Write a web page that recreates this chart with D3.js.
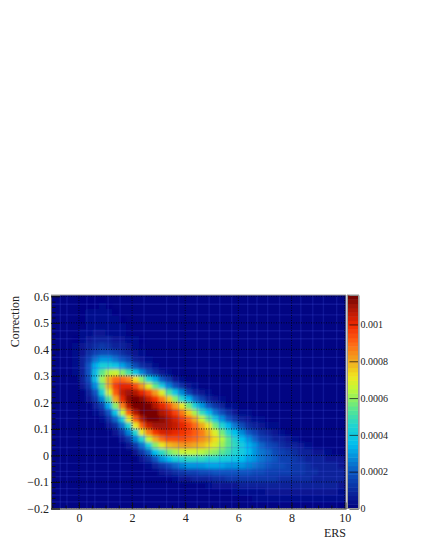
<!DOCTYPE html>
<html>
<head>
<meta charset="utf-8">
<script src="https://cdn.jsdelivr.net/npm/d3@7"></script>
<style>
  body { margin: 0; background: #fff; }
  text { font-family: "Liberation Serif", serif; fill: #222; }
</style>
</head>
<body>
<div id="chart"></div>
<script>
// Bin layout of the histogram
const xBinStart = -1, xBinWidth = 0.25;
const yBinTop = 0.6, yBinHeight = 0.025;
const background = 2;

// first filled x bin of every row, top row first
const rowStart = [4, 4, 4, 4, 5, 4, 3, 3, 3, 3, 3, 3, 4, 4, 5, 5, 6, 6, 7, 8, 9, 10, 11, 12, 13, 14, 16, 18, 23, 27, 30, 43];

// bin contents, in units of 1e-5, one list per row
const heat = [
  [2, 2, 2, 2],
  [2, 2, 2, 3, 2],
  [2, 3, 3, 3, 3, 2],
  [2, 3, 3, 3, 3, 3, 2],
  [3, 3, 3, 3, 3, 3],
  [3, 4, 5, 5, 4, 4, 3],
  [2, 3, 5, 7, 8, 7, 6, 5, 4, 3, 2],
  [3, 5, 8, 11, 12, 11, 9, 7, 5, 3],
  [3, 6, 11, 16, 18, 17, 14, 11, 8, 5, 3],
  [3, 7, 15, 24, 29, 28, 24, 19, 14, 9, 6, 3],
  [4, 9, 19, 33, 42, 44, 39, 32, 24, 17, 11, 7, 4],
  [4, 9, 20, 38, 54, 64, 66, 60, 50, 38, 27, 18, 11, 6, 3],
  [7, 18, 38, 62, 80, 90, 90, 84, 72, 58, 44, 31, 20, 12, 6, 3],
  [5, 13, 30, 54, 80, 96, 102, 100, 93, 82, 69, 54, 40, 27, 17, 10, 5, 3],
  [8, 20, 42, 68, 92, 106, 110, 108, 102, 94, 82, 68, 53, 39, 26, 16, 9, 5, 3],
  [5, 12, 27, 52, 80, 102, 112, 114, 112, 106, 98, 88, 75, 60, 46, 33, 22, 14, 8, 5, 3],
  [7, 16, 34, 60, 88, 107, 115, 116, 114, 109, 102, 94, 83, 70, 56, 42, 30, 20, 13, 8, 4, 3],
  [4, 8, 19, 39, 65, 92, 109, 116, 116, 114, 109, 103, 96, 87, 75, 62, 48, 36, 25, 17, 11, 6, 4, 3],
  [4, 10, 22, 43, 70, 92, 108, 114, 115, 113, 108, 103, 97, 90, 80, 67, 54, 41, 30, 20, 13, 8, 5, 4, 3],
  [5, 11, 24, 45, 70, 92, 105, 110, 110, 108, 105, 101, 96, 90, 81, 70, 57, 45, 34, 25, 17, 11, 7, 5, 4, 3],
  [5, 12, 26, 46, 70, 88, 99, 103, 103, 101, 99, 96, 92, 86, 78, 68, 57, 46, 36, 27, 20, 14, 10, 7, 5, 4],
  [6, 13, 26, 45, 65, 81, 90, 94, 94, 93, 92, 89, 85, 80, 72, 63, 54, 45, 36, 28, 21, 16, 12, 9, 7, 5, 4],
  [6, 13, 25, 42, 59, 71, 78, 81, 82, 82, 80, 77, 73, 68, 62, 55, 48, 41, 34, 28, 22, 17, 14, 11, 9, 7, 5, 4],
  [6, 12, 23, 36, 48, 57, 62, 65, 66, 65, 63, 61, 58, 54, 50, 46, 41, 36, 30, 25, 21, 18, 15, 12, 10, 8, 7, 6, 5, 4],
  [5, 10, 19, 28, 36, 42, 46, 47, 47, 47, 46, 45, 43, 41, 39, 36, 32, 28, 25, 22, 19, 16, 14, 12, 10, 9, 8, 7, 6, 5, 5],
  [4, 8, 13, 18, 23, 26, 28, 29, 30, 31, 31, 31, 30, 29, 28, 26, 24, 22, 20, 18, 17, 15, 13, 12, 11, 9, 8, 7, 7, 6],
  [5, 7, 10, 12, 14, 16, 17, 18, 19, 20, 20, 20, 19, 19, 18, 17, 16, 16, 15, 14, 13, 12, 11, 10, 9, 8, 7, 7],
  [4, 5, 6, 7, 8, 9, 10, 11, 12, 12, 12, 12, 12, 12, 12, 12, 11, 11, 11, 10, 10, 9, 8, 8, 7, 7],
  [4, 5, 5, 6, 6, 7, 7, 7, 7, 7, 8, 8, 8, 8, 8, 8, 8, 8, 7, 7, 6],
  [3, 4, 4, 4, 4, 5, 5, 5, 5, 5, 5, 5, 5, 5, 5, 5, 4],
  [3, 3, 3, 3, 3, 3, 3, 3, 3, 3, 3, 3, 3, 3],
  [2]
];

// fainter streaks that run through the whole histogram
const streaksX = [-0.7, -0.45, 0.3, 0.6, 1.1, 1.55, 2.45, 3.3, 3.75, 4.45, 4.9, 5.3, 5.75, 6.35, 6.7, 7.1, 7.55, 8.35, 8.8, 9.2, 9.7];
const streaksY = [0.57, 0.53, 0.47, 0.44, 0.37, 0.33, 0.27, 0.17, 0.14, 0.07, 0.03, -0.03, -0.06, -0.08, -0.125, -0.15, -0.175];

// Axis ticks
const xMajor = [0, 2, 4, 6, 8, 10];
const xMinor = [-1, -0.5, 0.5, 1, 1.5, 2.5, 3, 3.5, 4.5, 5, 5.5, 6.5, 7, 7.5, 8.5, 9, 9.5];
const yMajor = [-0.2, -0.1, 0, 0.1, 0.2, 0.3, 0.4, 0.5, 0.6];
const yMinor = [-0.18, -0.16, -0.14, -0.12, -0.08, -0.06, -0.04, -0.02, 0.02, 0.04, 0.06, 0.08, 0.12, 0.14, 0.16, 0.18,
  0.22, 0.24, 0.26, 0.28, 0.32, 0.34, 0.36, 0.38, 0.42, 0.44, 0.46, 0.48, 0.52, 0.54, 0.56, 0.58];
const zTicks = [0, 20, 40, 60, 80, 100];
const zLabels = ["0", "0.0002", "0.0004", "0.0006", "0.0008", "0.001"];
const zMax = 116;
const nColors = 50;

// Palette, position along the colour bar and colour
const paletteStops = [0, 0.06, 0.17, 0.3, 0.39, 0.47, 0.56, 0.62, 0.69, 0.78, 0.86, 0.95, 1];
const paletteColors = ["#00007f", "#0a1e96", "#0b55c0", "#00bdf0", "#20d4d0", "#5ce68c", "#c0f838", "#f0e61e",
  "#f0aa1e", "#ff6414", "#f02800", "#a01408", "#6e0000"];

let width = 421, height = 545;
let plot = { left: 51, right: 346, top: 295, bottom: 508.5 };

let svg = d3.select("#chart").append("svg")
  .attr("width", width)
  .attr("height", height)
  .style("display", "block");

let x = d3.scaleLinear().domain([-1.05, 10.05]).range([plot.left, plot.right]);
let y = d3.scaleLinear().domain([-0.2, 0.605]).range([plot.bottom, plot.top]);
let z = d3.scaleLinear().domain([0, zMax]).range([plot.bottom, plot.top]);

let palette = d3.scaleLinear().domain(paletteStops).range(paletteColors).clamp(true);
// ROOT paints with a fixed number of colour levels
function levelColor(v) {
  let level = Math.min(nColors - 1, Math.floor(v / zMax * nColors));
  return palette((level + 0.5) / nColors);
}

let defs = svg.append("defs");
defs.append("clipPath").attr("id", "plotClip").append("rect")
  .attr("x", plot.left).attr("y", plot.top)
  .attr("width", plot.right - plot.left).attr("height", plot.bottom - plot.top);
// soften the bins a little, the reference is a resampled raster
defs.append("filter").attr("id", "soft")
  .attr("filterUnits", "userSpaceOnUse")
  .attr("x", 0).attr("y", 250).attr("width", width).attr("height", 295)
  .append("feGaussianBlur").attr("stdDeviation", 1.8);

let plotArea = svg.append("g").attr("clip-path", "url(#plotClip)");
plotArea.append("rect")
  .attr("x", plot.left).attr("y", plot.top)
  .attr("width", plot.right - plot.left).attr("height", plot.bottom - plot.top)
  .attr("fill", levelColor(background));

// flatten the rows into cells
let cells = [];
heat.forEach(function(row, j) {
  row.forEach(function(v, k) {
    cells.push({ i: rowStart[j] + k, j: j, v: v });
  });
});

plotArea.append("g").attr("filter", "url(#soft)")
  .selectAll("rect").data(cells).enter().append("rect")
  .attr("x", d => x(xBinStart + d.i * xBinWidth))
  .attr("y", d => y(yBinTop - d.j * yBinHeight))
  .attr("width", x(xBinWidth) - x(0) + 0.5)
  .attr("height", y(0) - y(yBinHeight) + 0.5)
  .attr("fill", d => levelColor(d.v));

// streaks
plotArea.selectAll(".streakX").data(streaksX).enter().append("line")
  .attr("class", "streakX")
  .attr("x1", d => x(d)).attr("x2", d => x(d))
  .attr("y1", plot.top).attr("y2", plot.bottom)
  .attr("stroke", "#4a5ae6").attr("stroke-width", 1.4).attr("opacity", 0.2);
plotArea.selectAll(".streakY").data(streaksY).enter().append("line")
  .attr("class", "streakY")
  .attr("x1", plot.left).attr("x2", plot.right)
  .attr("y1", d => y(d)).attr("y2", d => y(d))
  .attr("stroke", "#4a5ae6").attr("stroke-width", 1.4).attr("opacity", 0.2);

// dotted grid
plotArea.selectAll(".gridX").data(xMajor).enter().append("line")
  .attr("class", "gridX")
  .attr("x1", d => x(d)).attr("x2", d => x(d))
  .attr("y1", plot.top).attr("y2", plot.bottom)
  .attr("stroke", "#000").attr("stroke-dasharray", "1 1.5").attr("opacity", 0.75);
plotArea.selectAll(".gridY").data(yMajor).enter().append("line")
  .attr("class", "gridY")
  .attr("x1", plot.left).attr("x2", plot.right)
  .attr("y1", d => y(d)).attr("y2", d => y(d))
  .attr("stroke", "#000").attr("stroke-dasharray", "1 1.5").attr("opacity", 0.75);

// axes, ticks point into the frame
let xAxis = d3.axisBottom(x).tickValues(xMajor).tickSize(-6).tickPadding(5).tickFormat(d3.format("d"));
let xAxisMinor = d3.axisBottom(x).tickValues(xMinor).tickSize(-3).tickFormat("");
let yAxis = d3.axisLeft(y).tickValues(yMajor).tickSize(-9).tickPadding(2).tickFormat(d => d === 0 ? "0" : d3.format(".1f")(d));
let yAxisMinor = d3.axisLeft(y).tickValues(yMinor).tickSize(-4.5).tickFormat("");

function styleAxis(g) {
  g.selectAll("text").attr("font-size", 12);
  g.selectAll("line").attr("stroke", "#111");
  g.select(".domain").attr("stroke", "#666");
}

svg.append("g").attr("transform", "translate(0," + plot.bottom + ")").call(xAxisMinor).call(styleAxis);
svg.append("g").attr("transform", "translate(0," + plot.bottom + ")").call(xAxis).call(styleAxis);
svg.append("g").attr("transform", "translate(" + plot.left + ",0)").call(yAxisMinor).call(styleAxis);
svg.append("g").attr("transform", "translate(" + plot.left + ",0)").call(yAxis).call(styleAxis);

// top and right edge of the frame
svg.append("path")
  .attr("d", d3.line()([[plot.left, plot.top], [plot.right, plot.top], [plot.right, plot.bottom]]))
  .attr("fill", "none").attr("stroke", "#999");

// axis titles
svg.append("text")
  .attr("text-anchor", "end")
  .attr("font-size", 12)
  .attr("x", plot.right)
  .attr("y", 537)
  .text("ERS");
svg.append("text")
  .attr("text-anchor", "end")
  .attr("font-size", 12)
  .attr("transform", "translate(19," + (plot.top + 1) + ")rotate(-90)")
  .text("Correction");

// colour bar
let barLeft = 347.5, barRight = 358.5;
let levels = d3.range(nColors);
svg.append("g").selectAll("rect").data(levels).enter().append("rect")
  .attr("x", barLeft)
  .attr("y", d => z((d + 1) / nColors * zMax))
  .attr("width", barRight - barLeft)
  .attr("height", z(0) - z(zMax / nColors) + 0.5)
  .attr("fill", d => palette((d + 0.5) / nColors));

let zAxis = d3.axisRight(z).tickValues(zTicks).tickSize(-9).tickPadding(2).tickFormat((d, i) => zLabels[i]);
svg.append("g").attr("transform", "translate(" + barRight + ",0)").call(zAxis)
  .call(function(g) {
    g.selectAll("text").attr("font-size", 10);
    g.selectAll("line").attr("stroke", "#111").attr("opacity", 0.7);
    g.select(".domain").attr("stroke", "#777");
  });
svg.append("rect")
  .attr("x", barLeft).attr("y", plot.top)
  .attr("width", barRight - barLeft).attr("height", plot.bottom - plot.top)
  .attr("fill", "none").attr("stroke", "#999");
</script>
</body>
</html>
